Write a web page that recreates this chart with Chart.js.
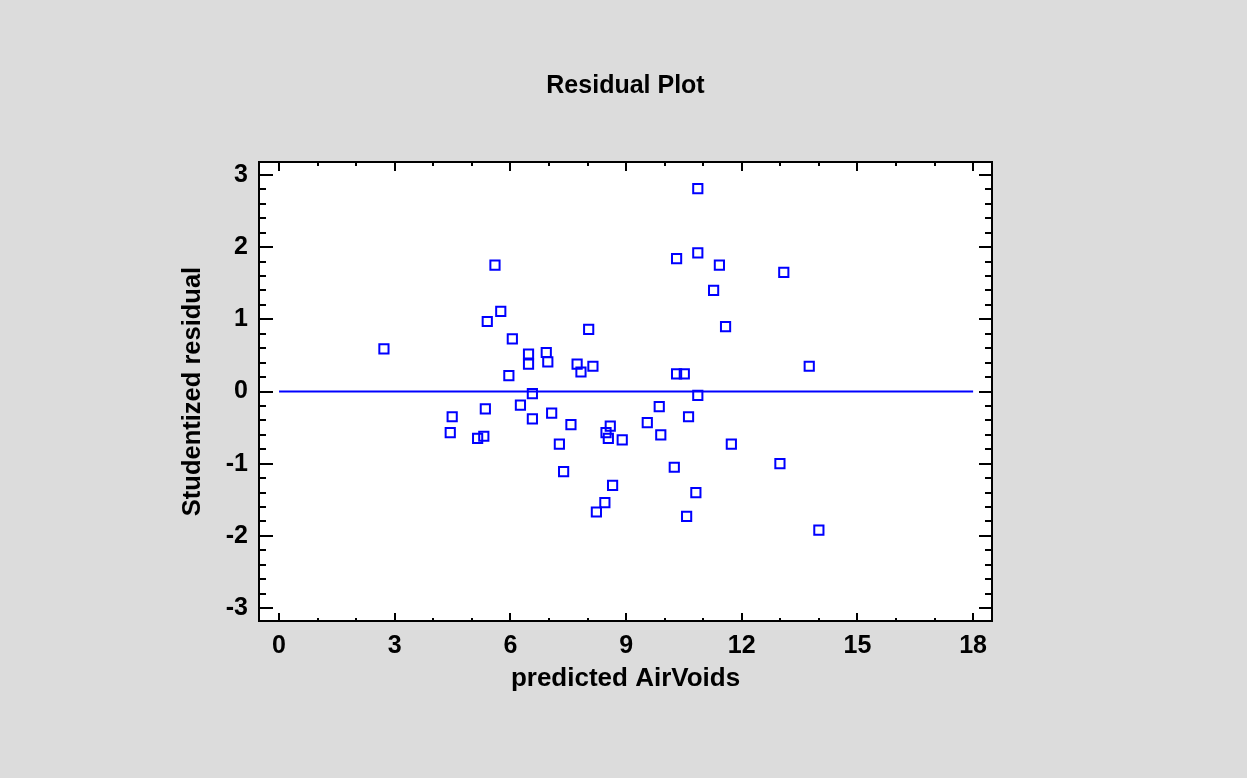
<!DOCTYPE html>
<html>
<head>
<meta charset="utf-8">
<title>Residual Plot</title>
<script src="https://cdn.jsdelivr.net/npm/chart.js@4.4.1/dist/chart.umd.min.js"></script>
<style>
  html, body { margin: 0; padding: 0; background: #dcdcdc; }
  canvas { display: block; }
</style>
</head>
<body>
<canvas id="residualChart" width="1247" height="778"></canvas>
<script>
// predicted AirVoids vs studentized residual
const predicted = [
  2.72, 5.60, 5.75, 5.40, 6.05, 5.96, 10.86, 10.31, 10.86, 11.42,
  11.27, 11.58, 8.03, 6.47, 6.47, 6.93, 6.97, 7.73, 7.83, 8.14,
  10.31, 10.51, 6.57, 10.86, 13.09, 13.75, 4.49, 4.44, 5.35, 5.15,
  5.31, 6.26, 6.57, 7.07, 7.57, 7.27, 7.38, 8.59, 8.48, 8.54,
  8.90, 8.65, 8.45, 8.23, 9.55, 9.86, 9.90, 10.62, 10.25, 10.81,
  10.57, 11.73, 12.99, 14.00
];
const residuals = [
  0.59, 1.75, 1.11, 0.97, 0.73, 0.22, 2.81, 1.84, 1.92, 1.75,
  1.40, 0.90, 0.86, 0.52, 0.38, 0.54, 0.41, 0.38, 0.27, 0.35,
  0.245, 0.245, -0.03, -0.055, 1.65, 0.35, -0.35, -0.57, -0.24, -0.65,
  -0.62, -0.19, -0.38, -0.30, -0.46, -0.73, -1.11, -0.48, -0.57, -0.65,
  -0.67, -1.30, -1.54, -1.67, -0.43, -0.21, -0.60, -0.35, -1.05, -1.40,
  -1.73, -0.73, -1.00, -1.92
];
const xTicks = [0, 3, 6, 9, 12, 15, 18];
const yTicks = [-3, -2, -1, 0, 1, 2, 3];
const zeroLineX = [0, 18];

const X_MIN = -0.52, X_MAX = 18.49;
const Y_MIN = -3.18, Y_MAX = 3.18;
const X_MINOR = 1, Y_MINOR = 0.2;

const FONT = "'Liberation Sans', Arial, sans-serif";
const BLUE = '#0000ff';

// grey page, white plot box, then a black frame with inward ticks on all sides
const framePlugin = {
  id: 'frame',
  beforeDraw(chart) {
    const { ctx, chartArea: a } = chart;
    ctx.save();
    ctx.fillStyle = '#dcdcdc';
    ctx.fillRect(0, 0, chart.width, chart.height);
    ctx.fillStyle = '#ffffff';
    ctx.fillRect(a.left, a.top, a.right - a.left, a.bottom - a.top);
    ctx.restore();
  },
  afterDatasetsDraw(chart) {
    const { ctx, chartArea: a, scales: { x, y } } = chart;
    ctx.save();
    ctx.strokeStyle = '#000';
    ctx.lineWidth = 2;
    ctx.beginPath();
    const nx = Math.round((xTicks[xTicks.length - 1] - xTicks[0]) / X_MINOR);
    for (let i = 0; i <= nx; i++) {
      const v = xTicks[0] + i * X_MINOR;
      const px = Math.round(x.getPixelForValue(v));
      const major = xTicks.some(t => Math.abs(t - v) < 1e-6);
      ctx.moveTo(px, a.bottom); ctx.lineTo(px, a.bottom - (major ? 8 : 3));
      ctx.moveTo(px, a.top); ctx.lineTo(px, a.top + (major ? 9 : 4));
    }
    const ny = Math.round((yTicks[yTicks.length - 1] - yTicks[0]) / Y_MINOR);
    for (let i = 0; i <= ny; i++) {
      const v = yTicks[0] + i * Y_MINOR;
      const py = Math.round(y.getPixelForValue(v));
      const major = yTicks.some(t => Math.abs(t - v) < 1e-6);
      ctx.moveTo(a.left, py); ctx.lineTo(a.left + (major ? 14 : 7), py);
      ctx.moveTo(a.right, py); ctx.lineTo(a.right - (major ? 13 : 7), py);
    }
    ctx.stroke();
    ctx.strokeRect(a.left, a.top, a.right - a.left, a.bottom - a.top);
    ctx.restore();
  }
};

const ctx = document.getElementById('residualChart').getContext('2d');
const chart = new Chart(ctx, {
  type: 'scatter',
  data: {
    datasets: [
      {
        type: 'line',
        label: 'zero',
        data: zeroLineX.map(v => ({ x: v, y: 0 })),
        borderColor: BLUE,
        borderWidth: 2,
        pointRadius: 0,
        fill: false
      },
      {
        label: 'Studentized residual',
        data: predicted.map((v, i) => ({ x: v, y: residuals[i] })),
        pointStyle: 'rect',
        pointRadius: 6.5,
        pointHoverRadius: 6.5,
        borderWidth: 2,
        borderColor: BLUE,
        backgroundColor: 'rgba(0,0,0,0)'
      }
    ]
  },
  options: {
    responsive: false,
    animation: false,
    events: [],
    layout: { padding: { left: 0, right: 255, top: 0, bottom: 0 } },
    plugins: {
      legend: { display: false },
      tooltip: { enabled: false },
      title: {
        display: true,
        fullSize: false,
        text: 'Residual Plot',
        color: '#000',
        font: { family: FONT, size: 25, weight: 'bold' },
        padding: { top: 71, bottom: 61 }
      }
    },
    scales: {
      x: {
        type: 'linear',
        min: X_MIN,
        max: X_MAX,
        afterBuildTicks: s => { s.ticks = xTicks.map(v => ({ value: v })); },
        afterFit: s => { s.height = 157; },
        grid: { display: false, drawTicks: false },
        border: { display: false },
        ticks: {
          color: '#000',
          padding: 10,
          maxRotation: 0,
          autoSkip: false,
          font: { family: FONT, size: 25, weight: 'bold' }
        },
        title: {
          display: true,
          text: 'predicted AirVoids',
          color: '#000',
          font: { family: FONT, size: 26, weight: 'bold' },
          padding: { top: 0, bottom: 84 }
        }
      },
      y: {
        type: 'linear',
        min: Y_MIN,
        max: Y_MAX,
        afterBuildTicks: s => { s.ticks = yTicks.map(v => ({ value: v })); },
        afterFit: s => { s.width = 259; },
        grid: { display: false, drawTicks: false },
        border: { display: false },
        ticks: {
          color: '#000',
          padding: 11,
          autoSkip: false,
          font: { family: FONT, size: 25, weight: 'bold' }
        },
        title: {
          display: true,
          text: 'Studentized residual',
          color: '#000',
          font: { family: FONT, size: 25.5, weight: 'bold' },
          padding: { top: 178, bottom: 0 }
        }
      }
    }
  },
  plugins: [framePlugin]
});
</script>
</body>
</html>
